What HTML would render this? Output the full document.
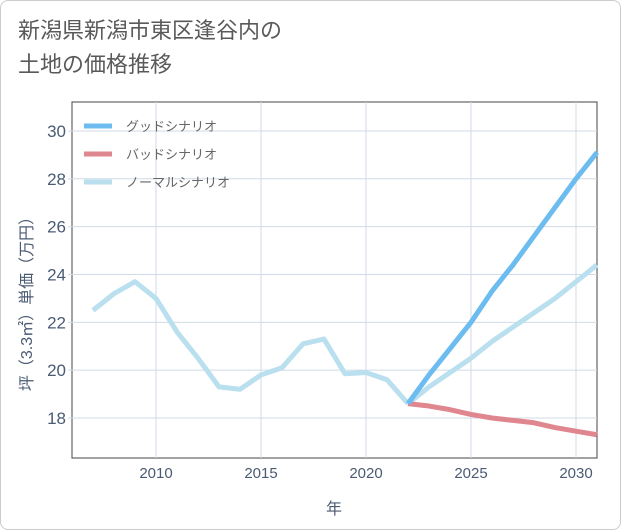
<!DOCTYPE html>
<html><head><meta charset="utf-8"><style>
body{margin:0;background:#fff;font-family:"Liberation Sans","Noto Sans CJK JP",sans-serif;}
.card{position:absolute;left:0;top:0;width:619px;height:528px;border:1px solid #ccc;border-radius:8px;background:#fff;}
.title{position:absolute;left:18px;top:14px;font-size:22px;line-height:34px;color:#5a5a5a;}
</style></head><body>
<div class="card"></div>
<div class="title">新潟県新潟市東区逢谷内の<br>土地の価格推移</div>
<svg id="c" width="621" height="530" style="position:absolute;left:0;top:0"></svg>
<script>
const years=[2007,2008,2009,2010,2011,2012,2013,2014,2015,2016,2017,2018,2019,2020,2021,2022];
const hist=[22.5,23.2,23.7,23.0,21.6,20.5,19.3,19.2,19.8,20.1,21.1,21.3,19.85,19.9,19.6,18.6];
const fYears=[2022,2023,2024,2025,2026,2027,2028,2029,2030,2031];
const good=[18.6,19.8,20.9,22.0,23.3,24.4,25.6,26.8,28.0,29.1];
const bad=[18.6,18.5,18.35,18.15,18.0,17.9,17.8,17.6,17.45,17.3];
const normal=[18.6,19.3,19.9,20.5,21.2,21.8,22.4,23.0,23.7,24.4];
const xTicks=[2010,2015,2020,2025,2030];
const yTicks=[18,20,22,24,26,28,30];
const X=v=>72+(v-2006)*21, Y=v=>418-(v-18)*23.92;
const svg=document.getElementById('c');const NS='http://www.w3.org/2000/svg';
const AX='#4a5b73';
function mk(t,a,p){const e=document.createElementNS(NS,t);for(const k in a)e.setAttribute(k,a[k]);(p||svg).appendChild(e);return e;}
let e=mk('rect',{x:72,y:102,width:525,height:356,fill:'#fff',stroke:'#444','stroke-width':1});


xTicks.forEach(t=>{let l=mk('line',{x1:X(t),x2:X(t),y1:102,y2:458,stroke:'#cfdbe6'});


let tx=mk('text',{x:X(t),y:478,'text-anchor':'middle','font-size':15,fill:AX});tx.textContent=t;

});
yTicks.forEach(t=>{let l=mk('line',{x1:68,x2:597,y1:Y(t),y2:Y(t),stroke:'#cfdbe6'});


let tx=mk('text',{x:66,y:Y(t)+6,'text-anchor':'end','font-size':17,fill:AX});tx.textContent=t;

});
function line(xs,ys,c,n){let p=mk('polyline',{points:xs.map((x,i)=>X(x)+','+Y(ys[i])).join(' '),fill:'none',stroke:c,'stroke-width':5,'stroke-linejoin':'round'});

}
line(years,hist,'#badfef','history-line');
line(fYears,normal,'#badfef','normal-scenario-line');
line(fYears,bad,'#e0868e','bad-scenario-line');
line(fYears,good,'#6cbcf0','good-scenario-line');
const leg=[['グッドシナリオ','#6cbcf0'],['バッドシナリオ','#e0868e'],['ノーマルシナリオ','#badfef']];
leg.forEach((d,i)=>{let g=mk('g',{});


mk('line',{x1:84,x2:112,y1:126+i*28,y2:126+i*28,stroke:d[1],'stroke-width':5},g);
let t=mk('text',{x:126,y:131+i*28,'font-size':13,fill:'#666'},g);t.textContent=d[0];});
let xt=mk('text',{x:334,y:514,'text-anchor':'middle','font-size':16,fill:AX});xt.textContent='年';


let yt=mk('text',{x:0,y:0,'text-anchor':'middle','font-size':16,fill:AX,transform:'translate(32,300) rotate(-90)'});yt.textContent='坪（3.3㎡）単価（万円）';


</script>
</body></html>
